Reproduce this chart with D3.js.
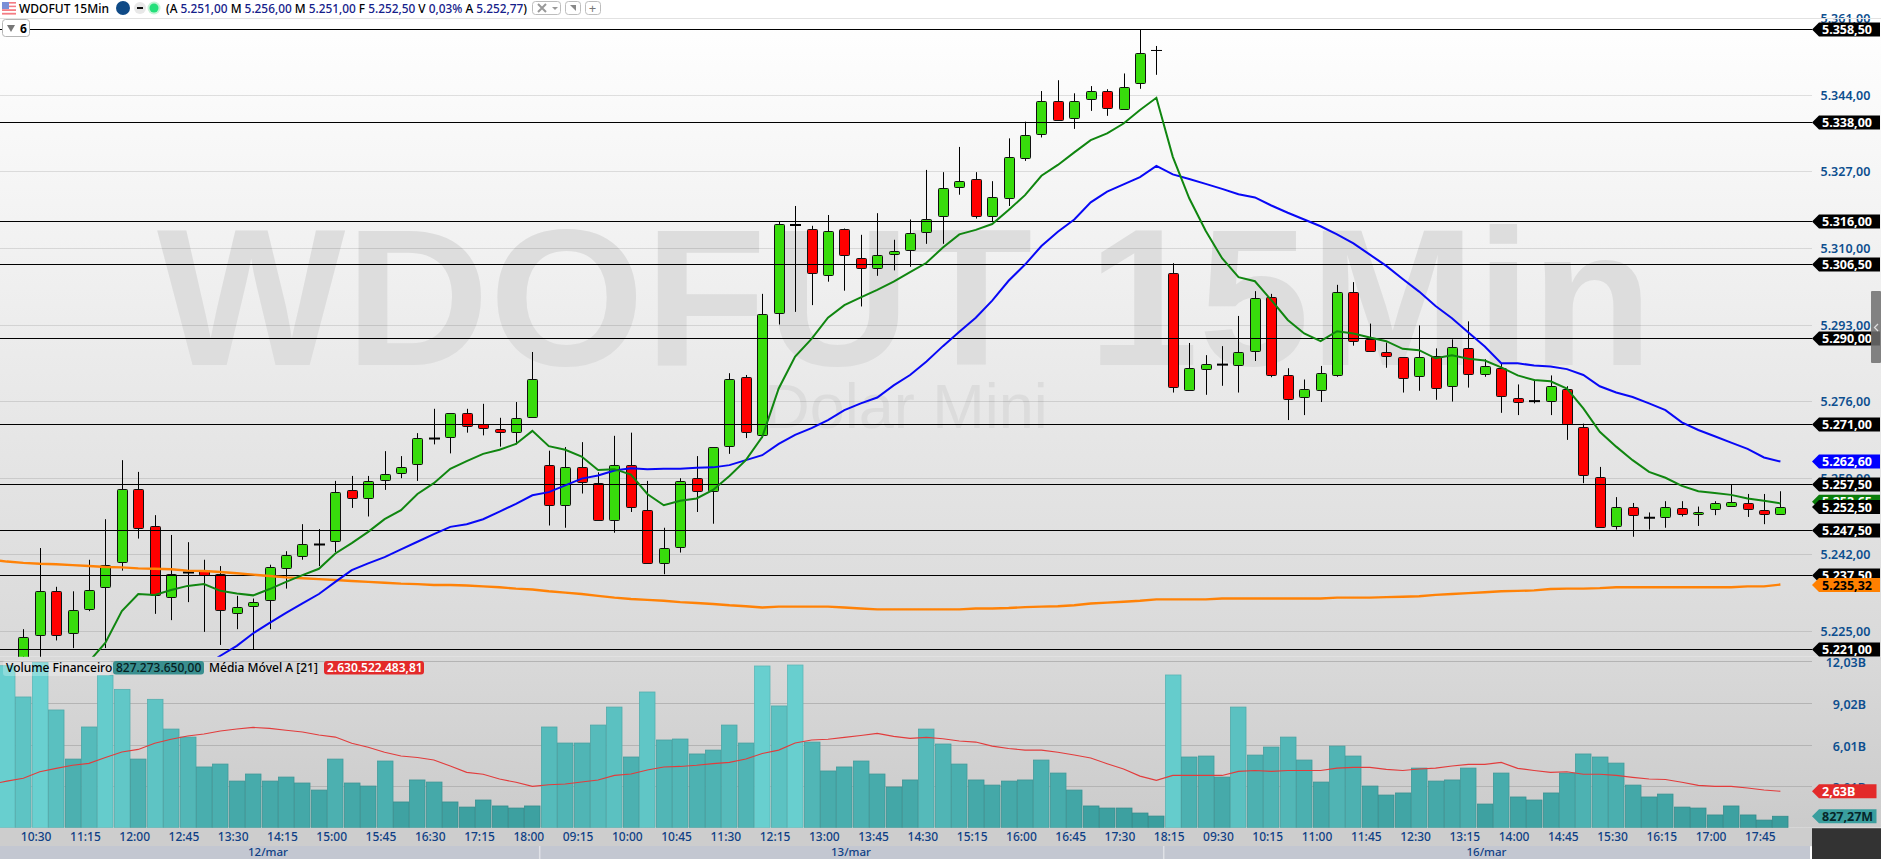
<!DOCTYPE html>
<html><head><meta charset="utf-8">
<style>html,body{margin:0;padding:0;background:#fff;overflow:hidden}svg{display:block}text{font-family:"Noto Sans",sans-serif}</style>
<script src="https://cdnjs.cloudflare.com/ajax/libs/d3/7.8.5/d3.min.js"></script></head>
<body><svg id="c" width="1881" height="859"></svg>
<script>
const opens=[5213,5218,5224,5233.8,5224.5,5230,5234.9,5240.5,5256.6,5248.2,5232.5,5238,5238.6,5237.6,5228.9,5230.5,5232,5238.9,5241.6,5244.2,5244.9,5256.2,5254.4,5258.4,5260,5262,5267.7,5268,5273.3,5270.9,5269.8,5269.1,5272.4,5261.8,5252.9,5261.3,5257.8,5249.6,5261.8,5251.8,5240,5243.6,5258.9,5256,5265.9,5281.3,5268.4,5295.5,5315.1,5314.3,5303.9,5314.3,5307.7,5305.5,5308.6,5309.5,5313.5,5317,5323.4,5325.2,5317,5321,5330.1,5335.4,5342.7,5339,5343,5344.7,5341,5346.5,5353.8,5304.4,5278.4,5283.1,5284.1,5283.9,5287,5299.2,5281.7,5277,5278.4,5281.9,5300.3,5289.7,5286.8,5285.7,5281.5,5286.1,5279.5,5287.7,5281.9,5283.3,5276.8,5276,5275.9,5278.8,5270.2,5259.2,5248.4,5252.6,5250.1,5250.4,5252.2,5250.9,5252,5252.9,5253.3,5251.8,5251];
const closes=[5216,5223.7,5233.8,5224,5229.7,5234.2,5239.7,5256.6,5248,5233,5237.7,5238,5237.6,5229.6,5230.3,5231.4,5239.3,5241.8,5244.2,5244.2,5255.8,5254.4,5258.2,5259.8,5261.3,5267.8,5267.7,5273.3,5270.4,5270,5269.1,5272.2,5280.9,5252.9,5261.3,5257.9,5249.6,5261.8,5252.5,5240,5243.4,5258.2,5256,5265.8,5280.8,5269,5295.3,5315.2,5315.1,5304.6,5313.7,5308.6,5305.5,5308.4,5309.2,5313.2,5316.3,5323.2,5324.8,5317,5321.2,5330.2,5335.1,5342.7,5338.5,5342.7,5344.7,5341,5345.8,5353.2,5353.8,5279,5283.3,5284.2,5284.1,5286.8,5298.8,5281.9,5276.4,5278.8,5282.2,5300.3,5289.5,5287,5285.9,5281,5285.7,5279,5288.1,5281.9,5283.7,5277,5275.9,5276,5279.3,5271,5259.5,5248,5252.6,5250.9,5250.1,5252.6,5250.9,5251.3,5253.3,5253.7,5252,5250.9,5252.5];
const highs=[5218,5225.4,5243.4,5234.8,5233.8,5240.8,5249.8,5262.9,5260.3,5250.7,5246.3,5244.7,5240.8,5239.4,5232.8,5232.2,5239.7,5242.7,5248.7,5247.6,5258.3,5259.4,5259.4,5264.9,5263.8,5268.9,5274.3,5273.3,5274.3,5275.4,5272.3,5275.8,5286.9,5265,5265.8,5266.9,5260.2,5268.3,5269,5258.3,5247.9,5258.9,5263.8,5265.8,5282.2,5281.8,5299.8,5315.8,5319.3,5314.9,5317.3,5314.3,5312.9,5317.7,5311.8,5316.3,5327.3,5326.8,5332.4,5326.8,5324.8,5334.3,5338,5344.8,5347.2,5344.3,5345.9,5345.2,5348.7,5358.5,5354.8,5306.6,5288.9,5286.2,5288.2,5294.9,5300.4,5299.8,5283.3,5280.8,5283.8,5301.8,5302.4,5293.2,5289,5285.7,5292.8,5287.7,5289.7,5293.7,5285.3,5284.4,5279.7,5280.8,5281.7,5279.3,5271,5261.4,5254.7,5253.4,5251.3,5253.8,5253.8,5252.6,5253.8,5257.4,5255.4,5255.4,5256];
const lows=[5211,5216,5219,5222.9,5221.2,5229.4,5221.2,5238.4,5245.5,5228.8,5227.4,5231.4,5224.8,5221.9,5225.4,5220.9,5225.4,5234.4,5240.8,5239.4,5242.5,5252.3,5250.4,5256.3,5258.9,5258.3,5266.4,5264.4,5269,5268.4,5265.9,5266.4,5272.4,5248.4,5247.9,5255.5,5249.6,5246.8,5251.4,5240,5237.6,5242.4,5251.4,5248.8,5264.3,5267.8,5267.8,5293,5295.8,5297.3,5302.5,5300.5,5297,5303.8,5305,5305.8,5310.9,5310.9,5321.8,5316.5,5315.9,5319.3,5329.3,5334.5,5338.2,5336.4,5340.4,5339.3,5341,5345.3,5348.4,5277.9,5278.4,5277.4,5279.4,5277.9,5284.9,5281.3,5271.8,5272.9,5275.8,5281.4,5288.3,5287,5283.4,5277.9,5278.3,5276.3,5275.9,5279,5281.4,5273.4,5272.9,5275.5,5272.9,5267.4,5257.8,5248,5247.5,5245.9,5247.5,5247.9,5250.4,5248.3,5250.7,5252.9,5250.3,5248.7,5251];
const emaFast=[null,null,null,null,null,5218.2,5222.4,5229.4,5233.2,5233,5234.1,5235,5235.4,5233.9,5233.3,5232.9,5234.3,5235.9,5237.4,5238.8,5242.2,5244.5,5247,5249.8,5251.8,5255.4,5257.8,5261,5262.7,5264.3,5265.2,5266.5,5269.4,5266,5265.2,5263.7,5260.7,5260.9,5259.7,5255.4,5252.9,5253.9,5254.4,5256.3,5259.4,5262.9,5268.1,5278.8,5285.9,5289.8,5294.5,5297.3,5299,5300.7,5302.5,5304.6,5306.7,5310.1,5313,5314,5315.3,5318.4,5321.7,5326,5328.4,5331.2,5333.9,5335.4,5337.6,5340.6,5343.3,5330.2,5321,5313.8,5307.7,5303.5,5302.6,5298.4,5294,5291,5289.3,5291.5,5291,5290.1,5289.3,5287.6,5287.3,5285.5,5286.2,5285.4,5285,5283.5,5281.7,5280.7,5280.4,5278.8,5274.4,5269.2,5265.9,5262.9,5260.3,5259,5257.2,5256,5255.6,5255.2,5254.4,5253.9,5253.3];
const emaSlow=[null,null,null,null,null,null,null,null,null,null,null,null,5217.1,5219.5,5221.7,5224.5,5226.8,5229,5231.1,5233.2,5235.9,5238.5,5240,5241.4,5243.1,5244.8,5246.5,5248.1,5248.7,5249.8,5251.5,5253.2,5255.1,5255.8,5257.3,5258.8,5259.5,5260.6,5261.1,5260.9,5261,5261,5261.2,5261.3,5261.8,5262.9,5264,5266.5,5268.5,5270,5271.8,5274,5275.5,5276.8,5279.5,5281.8,5284.8,5288.2,5291.4,5294.5,5298.3,5302.7,5306.3,5310.4,5313.6,5316.3,5320.1,5322.5,5324.1,5325.7,5328.2,5326.3,5325.3,5324.2,5323.1,5321.9,5321.2,5319.4,5317.8,5316.3,5314.8,5313,5311,5308.5,5306,5303.1,5300.3,5297.1,5294.4,5291.2,5288.1,5284.4,5284.4,5283.9,5283.7,5283.1,5281.8,5279.3,5277.9,5276.9,5275.5,5274,5271.3,5269.6,5268.2,5266.8,5265.4,5263.5,5262.6];
const emaLong=[5240.4,5240.1,5239.9,5239.8,5239.6,5239.4,5239.2,5239.1,5238.9,5238.8,5238.7,5238.4,5238.3,5238.1,5237.8,5237.5,5237.2,5236.9,5236.7,5236.5,5236.3,5236.1,5235.9,5235.7,5235.5,5235.4,5235.2,5235.2,5235.1,5234.9,5234.7,5234.4,5234.2,5233.8,5233.5,5233.2,5232.8,5232.4,5232.1,5231.9,5231.7,5231.4,5231.2,5231,5230.7,5230.5,5230.2,5230.4,5230.4,5230.4,5230.4,5230.2,5230,5229.8,5229.8,5229.8,5229.8,5229.8,5229.8,5230,5230,5230.1,5230.3,5230.4,5230.5,5230.7,5231.1,5231.3,5231.5,5231.7,5232,5232,5232,5232,5232.2,5232.2,5232.2,5232.2,5232.2,5232.2,5232.2,5232.4,5232.4,5232.4,5232.5,5232.6,5232.7,5233,5233.2,5233.4,5233.6,5233.8,5233.9,5234,5234.3,5234.4,5234.4,5234.5,5234.7,5234.7,5234.7,5234.7,5234.7,5234.7,5234.7,5234.7,5234.9,5234.9,5235.3];
const volumes=[11.71,9.45,11.95,8.51,4.96,7.28,11.01,10,4.96,9.28,7.13,6.55,4.39,4.6,3.37,3.88,3.37,3.66,3.23,2.72,4.96,3.23,3.01,4.82,1.86,3.45,3.3,1.86,1.49,2,1.57,1.42,1.57,7.28,6.12,6.12,7.42,8.72,5.11,9.81,6.34,6.41,5.33,5.61,7.42,6.12,11.69,8.8,11.76,6.19,4.1,4.39,4.82,3.88,2.94,3.45,7.13,6.05,4.6,3.45,3.08,3.37,3.45,4.89,3.95,2.72,1.57,1.42,1.42,1.06,0.84,11.04,5.11,5.18,3.66,8.72,5.25,5.83,6.55,4.89,3.3,5.9,5.18,3.01,2.36,2.51,4.31,3.37,3.45,4.31,1.71,3.95,2.22,2,2.51,3.95,5.33,5.11,4.67,3.08,2.22,2.43,1.49,1.42,0.92,1.57,0.92,0.55,0.827];
const volumeMA=[3.37,3.57,4.05,4.29,4.51,4.65,5.08,5.47,5.66,6.1,6.39,6.63,6.77,6.99,7.13,7.25,7.18,7.04,6.92,6.7,6.55,6.1,5.81,5.45,5.18,5.08,4.89,4.46,4,3.86,3.52,3.28,2.99,3.11,3.16,3.3,3.45,3.78,3.88,4.17,4.39,4.43,4.51,4.63,4.72,4.96,5.37,5.61,6.12,6.34,6.39,6.53,6.67,6.82,6.6,6.46,6.53,6.43,6.27,6.19,5.9,5.73,5.61,5.61,5.45,5.25,5.04,4.63,4.24,3.73,3.42,3.78,3.78,3.78,3.78,4.07,4.14,4.07,4.14,4.14,4.14,4.31,4.36,4.36,4.22,4.14,4.24,4.31,4.46,4.58,4.58,4.72,4.29,4.14,4,4.05,3.86,3.86,3.78,3.64,3.52,3.49,3.28,3.06,2.99,2.99,2.87,2.72,2.63];
const leadIn={long:5240.6,ma:3.27}; // where the two long lines enter at the left edge
const timeLabels=["10:30","11:15","12:00","12:45","13:30","14:15","15:00","15:45","16:30","17:15","18:00","09:15","10:00","10:45","11:30","12:15","13:00","13:45","14:30","15:15","16:00","16:45","17:30","18:15","09:30","10:15","11:00","11:45","12:30","13:15","14:00","14:45","15:30","16:15","17:00","17:45"];
const dayLabels=["12/mar","13/mar","16/mar"];
const dayCenters=[15.9,51.4,90.1];   // bar positions of the day captions
const dayBreaks=[32.4,70.4];
const priceTicks=[5361,5344,5327,5310,5293,5276,5259,5242,5225];
const levels=[5358.5,5338,5316,5306.5,5290,5271,5257.5,5247.5,5237.5,5221];
const volumeTicks=[12.03,9.02,6.01,3.01];

const svg=d3.select("#c");
const W=1812,MAINTOP=18,MAINBOT=656.7,VOLTOP=656.7,VOLBOT=827.7;
const x=d3.scaleLinear().domain([0,108]).range([6.9,1780.4]);
const y=d3.scaleLinear().domain([5221,5358.5]).range([649,29.3]);
const v=d3.scaleLinear().domain([0,12.03]).range([VOLBOT,661.3]);
const idx=d3.range(opens.length);
const fmt=n=>n.toLocaleString("pt-BR",{minimumFractionDigits:2,maximumFractionDigits:2});
const B=n=>n.toLocaleString("pt-BR",{minimumFractionDigits:2,maximumFractionDigits:2})+"B";

const defs=svg.append("defs");
const g1=defs.append("linearGradient").attr("id","bgMain").attr("x1",0).attr("x2",0).attr("y1",0).attr("y2",1);
g1.append("stop").attr("offset",0).attr("stop-color","#ffffff");
g1.append("stop").attr("offset",1).attr("stop-color","#d9d9d9");
const g2=defs.append("linearGradient").attr("id","bgVol").attr("x1",0).attr("x2",0).attr("y1",0).attr("y2",1);
g2.append("stop").attr("offset",0).attr("stop-color","#d9d9d9");
g2.append("stop").attr("offset",1).attr("stop-color","#cbcbcb");
defs.append("clipPath").attr("id","clipMain").append("rect").attr("x",0).attr("y",MAINTOP).attr("width",W).attr("height",MAINBOT-MAINTOP);
defs.append("clipPath").attr("id","clipVol").append("rect").attr("x",0).attr("y",VOLTOP).attr("width",W).attr("height",VOLBOT-VOLTOP);

// backgrounds
svg.append("rect").attr("width",1881).attr("height",859).attr("fill","#fff");
svg.append("rect").attr("y",MAINTOP).attr("width",1881).attr("height",MAINBOT-MAINTOP).attr("fill","url(#bgMain)");
svg.append("rect").attr("y",VOLTOP).attr("width",1881).attr("height",VOLBOT-VOLTOP).attr("fill","url(#bgVol)");
svg.append("rect").attr("y",VOLBOT).attr("width",1812).attr("height",18.5).attr("fill","#cdcdcd");
svg.append("rect").attr("y",846).attr("width",1810).attr("height",13).attr("fill","#c3c7d1");
svg.append("rect").attr("x",1812).attr("y",VOLBOT+.5).attr("width",69).attr("height",32).attr("fill","#333");
dayBreaks.forEach(b=>svg.append("rect").attr("x",x(b)).attr("y",846).attr("width",1.5).attr("height",13).attr("fill","#dfe1e6"));

// watermark
svg.append("text").attr("x",905).attr("y",365).attr("text-anchor","middle").attr("font-size",194).attr("font-weight",700)
 .attr("textLength",1496).attr("lengthAdjust","spacingAndGlyphs")
 .style("font-family","'Liberation Sans'").attr("fill","#dddddd").text("WDOFUT 15Min");
svg.append("text").attr("x",906).attr("y",428).attr("text-anchor","middle").attr("font-size",63)
 .style("font-family","'Liberation Sans'").attr("fill","#dcdcdc").text("Dolar Mini");

// gridlines
svg.append("g").selectAll("line").data(priceTicks).join("line").attr("x1",0).attr("x2",W)
 .attr("y1",d=>Math.round(y(d))+.5).attr("y2",d=>Math.round(y(d))+.5).attr("stroke","rgba(0,0,0,.11)");
svg.append("g").selectAll("line").data(volumeTicks).join("line").attr("x1",0).attr("x2",W)
 .attr("y1",d=>Math.round(v(d))+.5).attr("y2",d=>Math.round(v(d))+.5).attr("stroke","#b4b4b4");

// candles
const main=svg.append("g").attr("clip-path","url(#clipMain)");
const cg=main.selectAll("g.k").data(idx).join("g").attr("class","k");
cg.append("line").attr("x1",i=>Math.round(x(i))+.5).attr("x2",i=>Math.round(x(i))+.5)
 .attr("y1",i=>y(highs[i])).attr("y2",i=>y(lows[i])).attr("stroke","#000");
cg.filter(i=>opens[i]!==closes[i]).append("rect").attr("x",i=>Math.round(x(i))-4.5).attr("width",10)
 .attr("y",i=>Math.round(y(Math.max(opens[i],closes[i])))+.5)
 .attr("height",i=>Math.max(1,Math.round(Math.abs(y(opens[i])-y(closes[i])))))
 .attr("rx",1).attr("fill",i=>closes[i]>opens[i]?"#38dc0c":"#ff0000").attr("stroke","#111");
cg.filter(i=>opens[i]===closes[i]).append("line").attr("x1",i=>Math.round(x(i))-5).attr("x2",i=>Math.round(x(i))+6)
 .attr("y1",i=>y(closes[i])).attr("y2",i=>y(closes[i])).attr("stroke","#000").attr("stroke-width",i=>closes[i]>5350?1:2);

// support / resistance lines
main.selectAll("line.lv").data(levels).join("line").attr("class","lv").attr("x1",0).attr("x2",W)
 .attr("y1",d=>Math.round(y(d))+.5).attr("y2",d=>Math.round(y(d))+.5).attr("stroke","#000");

// moving averages
const ln=(s,yy,lead)=>{
  const pts=idx.filter(i=>s[i]!==null).map(i=>[x(i),yy(s[i])]);
  if(lead!==undefined) pts.unshift([0,yy(lead)]);
  return d3.line()(pts);
};
main.append("path").attr("d",ln(emaLong,y,leadIn.long)).attr("fill","none").attr("stroke","#ff8207").attr("stroke-width",2.4);
main.append("path").attr("d",ln(emaSlow,y)).attr("fill","none").attr("stroke","#0808f6").attr("stroke-width",2);
main.append("path").attr("d",ln(emaFast,y)).attr("fill","none").attr("stroke","#108610").attr("stroke-width",2);

// volume
const vc=d3.scaleLinear().domain([0.5,12]).range(["#399c9c","#69d0d0"]);
const vol=svg.append("g").attr("clip-path","url(#clipVol)");
vol.selectAll("rect").data(idx).join("rect").attr("x",i=>Math.round(x(i))-7.5).attr("width",15.5)
 .attr("y",i=>v(volumes[i])).attr("height",i=>VOLBOT-v(volumes[i])).attr("fill",i=>vc(volumes[i]))
 .attr("stroke",i=>d3.color(vc(volumes[i])).darker(.35)).attr("stroke-width",.8);
vol.append("path").attr("d",ln(volumeMA,v,leadIn.ma)).attr("fill","none").attr("stroke","#e23c3c").attr("stroke-width",1.1);

// bottom axis
const TF="#0f3f85";
svg.append("g").selectAll("text").data(timeLabels).join("text").attr("x",(d,k)=>x(2+3*k)-3.6).attr("y",841)
 .attr("text-anchor","middle").attr("font-size",12).attr("font-weight",500).attr("fill",TF).text(d=>d);
svg.append("g").selectAll("text").data(dayLabels).join("text").attr("x",(d,k)=>x(dayCenters[k])).attr("y",856)
 .attr("text-anchor","middle").attr("font-size",11.5).attr("font-weight",500).attr("fill",TF).text(d=>d);

// right price ticks
svg.append("g").selectAll("text").data(priceTicks).join("text").attr("x",1820.5).attr("y",d=>y(d)+5)
 .attr("font-size",12.5).attr("font-weight",600).attr("fill","#0d4f8f").text(fmt);
svg.append("g").selectAll("text").data(volumeTicks).join("text").attr("x",1866).attr("y",d=>v(d)+6).attr("text-anchor","end")
 .attr("font-size",12.5).attr("font-weight",600).attr("fill","#0d4f8f").text(B);

// price flags
function flag(yc,txt,fill,tc,right,xt){
  const r=right||1880,h=7,l=1812,m=1819;
  svg.append("path").attr("d",`M${l},${yc}L${m},${yc-h}L${r},${yc-h}L${r},${yc+h}L${m},${yc+h}Z`).attr("fill",fill);
  svg.append("text").attr("x",xt||1822).attr("y",yc+4.6).attr("font-size",12.5).attr("font-weight",700).attr("fill",tc).text(txt);
}
levels.forEach(d=>flag(Math.round(y(d))+.5,fmt(d),"#000","#fff"));
flag(y(5262.6),fmt(5262.6),"#0000ff","#fff");
flag(y(5253.65),fmt(5253.65),"#0a7d0a","#fff");
flag(y(5252.5),fmt(5252.5),"#000","#fff");
flag(y(5235.32)+.5,fmt(5235.32),"#ff8000","#000");
flag(v(2.63),B(2.63),"#e32a2a","#fff",1876.5);
flag(v(0.827),"827,27M","#3a9e9e","#06262a",1876.5);

// scroll handle
svg.append("rect").attr("x",1871).attr("y",291).attr("width",10).attr("height",72).attr("rx",1).attr("fill","#6f6f6f").attr("fill-opacity",.85);
svg.append("path").attr("d","M1878,324L1874.5,327.5L1878,331").attr("fill","none").attr("stroke","#ddd").attr("stroke-width",1.3);

// volume legend
function pill(x0,w,fill){svg.append("rect").attr("x",x0).attr("y",661).attr("width",w).attr("height",13.5).attr("rx",3).attr("fill",fill);}
svg.append("rect").attr("x",3).attr("y",660).attr("width",108).attr("height",16).attr("rx",3).attr("fill","#fff").attr("fill-opacity",.25);
svg.append("text").attr("x",6).attr("y",672).attr("font-size",12).attr("font-weight",500).attr("fill","#000").text("Volume Financeiro");
pill(113,91,"#3a8f8f");
svg.append("text").attr("x",116).attr("y",672).attr("font-size",12).attr("font-weight",500).attr("fill","#04201f").text("827.273.650,00");
svg.append("text").attr("x",209).attr("y",672).attr("font-size",12).attr("font-weight",500).attr("fill","#000").text("Média Móvel A [21]");
pill(324,100,"#e32a2a");
svg.append("text").attr("x",327).attr("y",672).attr("font-size",12).attr("font-weight",600).attr("fill","#fff").text("2.630.522.483,81");

// header
svg.append("line").attr("x1",0).attr("x2",1881).attr("y1",18.5).attr("y2",18.5).attr("stroke","#e2e2e2");
const fl=svg.append("g");
[0,1,2,3,4,5,6].forEach(k=>fl.append("rect").attr("x",2).attr("y",2+k*1.8).attr("width",14).attr("height",1.8).attr("fill",k%2?"#fff":"#f47c84"));
fl.append("rect").attr("x",2).attr("y",2).attr("width",7).attr("height",7).attr("fill","#7a8fd6");
svg.append("text").attr("x",19).attr("y",12.5).attr("font-size",13).attr("font-weight",500).attr("textLength",90).attr("lengthAdjust","spacingAndGlyphs").attr("fill","#000").text("WDOFUT 15Min");
svg.append("circle").attr("cx",123).attr("cy",8).attr("r",7).attr("fill","#0f4a86");
svg.append("circle").attr("cx",140).attr("cy",8).attr("r",6).attr("fill","#e8e8e8");
svg.append("rect").attr("x",137).attr("y",7).attr("width",6).attr("height",2).attr("fill","#111");
svg.append("circle").attr("cx",154).attr("cy",8).attr("r",6.5).attr("fill","#c5f3d6");
svg.append("circle").attr("cx",154).attr("cy",8).attr("r",4.5).attr("fill","#24e07a");
const hdr=[["(A ","#000"],["5.251,00 ","#14208a"],["M ","#000"],["5.256,00 ","#14208a"],["M ","#000"],["5.251,00 ","#14208a"],["F ","#000"],["5.252,50 ","#14208a"],["V ","#000"],["0,03% ","#14208a"],["A ","#000"],["5.252,77","#14208a"],[")","#000"]];
const ht=svg.append("text").attr("x",166).attr("y",12.5).attr("font-size",13).attr("font-weight",500)
 .attr("textLength",361).attr("lengthAdjust","spacingAndGlyphs");
hdr.forEach(h=>ht.append("tspan").attr("fill",h[1]).text(h[0]));
[[532,28],[565,15],[585,15]].forEach(b=>svg.append("rect").attr("x",b[0]+.5).attr("y",1.5).attr("width",b[1]).attr("height",13).attr("rx",3).attr("fill","#fff").attr("stroke","#bdbdbd"));
svg.append("text").attr("x",592.5).attr("y",12.5).attr("text-anchor","middle").attr("font-size",13).attr("fill","#777").text("+");
svg.append("path").attr("d","M570,5L576,5L576,11Z").attr("fill","#888");
svg.append("path").attr("d","M538,4L546,12M546,4L538,12").attr("stroke","#999").attr("stroke-width",2);
svg.append("path").attr("d","M552,7L558,7L555,10Z").attr("fill","#999");
svg.append("rect").attr("x",2.5).attr("y",19.5).attr("width",27).attr("height",17).attr("rx",3).attr("fill","#fff").attr("stroke","#b5b5b5");
svg.append("path").attr("d","M7,25L15,25L11,32Z").attr("fill","#777");
svg.append("text").attr("x",20).attr("y",33).attr("font-size",12).attr("font-weight",700).attr("fill","#000").text("6");
</script></body></html>
